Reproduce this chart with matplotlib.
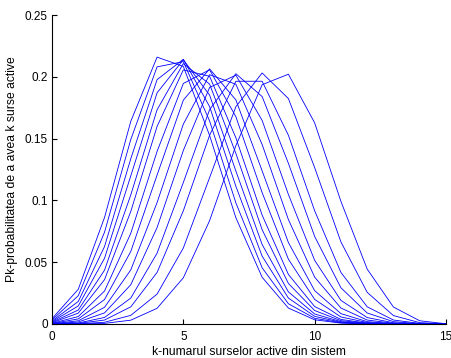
import matplotlib
matplotlib.use("Agg")
import matplotlib.pyplot as plt

k = list(range(16))

L1 = [0.0043, 0.0281, 0.0862, 0.1640, 0.2159, 0.2084, 0.1525, 0.0860, 0.0378, 0.0129, 0.0034, 0.0007, 0.0001, 0.0000, 0.0000, 0.0000]
L2 = [0.0033, 0.0229, 0.0743, 0.1493, 0.2080, 0.2123, 0.1643, 0.0980, 0.0455, 0.0164, 0.0046, 0.0010, 0.0001, 0.0000, 0.0000, 0.0000]
L3 = [0.0025, 0.0182, 0.0627, 0.1338, 0.1977, 0.2142, 0.1759, 0.1114, 0.0549, 0.0210, 0.0062, 0.0014, 0.0002, 0.0000, 0.0000, 0.0000]
L4 = [0.0019, 0.0146, 0.0532, 0.1199, 0.1870, 0.2138, 0.1852, 0.1238, 0.0643, 0.0260, 0.0081, 0.0019, 0.0003, 0.0000, 0.0000, 0.0000]
L5 = [0.0014, 0.0113, 0.0436, 0.1045, 0.1733, 0.2107, 0.1941, 0.1380, 0.0763, 0.0328, 0.0109, 0.0027, 0.0005, 0.0001, 0.0000, 0.0000]
L6 = [0.0010, 0.0088, 0.0359, 0.0911, 0.1598, 0.2056, 0.2004, 0.1507, 0.0881, 0.0401, 0.0141, 0.0037, 0.0007, 0.0001, 0.0000, 0.0000]
L7 = [0.0006, 0.0060, 0.0267, 0.0734, 0.1396, 0.1946, 0.2057, 0.1677, 0.1063, 0.0524, 0.0199, 0.0057, 0.0012, 0.0002, 0.0000, 0.0000]
L8 = [0.0004, 0.0041, 0.0198, 0.0587, 0.1205, 0.1811, 0.2064, 0.1813, 0.1239, 0.0659, 0.0270, 0.0084, 0.0019, 0.0003, 0.0000, 0.0000]
L9 = [0.0002, 0.0026, 0.0135, 0.0438, 0.0982, 0.1617, 0.2017, 0.1940, 0.1452, 0.0845, 0.0379, 0.0129, 0.0032, 0.0006, 0.0001, 0.0000]
L10 = [0.0001, 0.0016, 0.0090, 0.0318, 0.0780, 0.1404, 0.1914, 0.2013, 0.1647, 0.1048, 0.0515, 0.0191, 0.0052, 0.0010, 0.0001, 0.0000]
L11 = [0.0001, 0.0008, 0.0053, 0.0210, 0.0573, 0.1145, 0.1734, 0.2025, 0.1840, 0.1300, 0.0708, 0.0293, 0.0089, 0.0019, 0.0002, 0.0000]
L12 = [0.0000, 0.0005, 0.0032, 0.0139, 0.0417, 0.0916, 0.1527, 0.1964, 0.1964, 0.1527, 0.0916, 0.0417, 0.0139, 0.0032, 0.0005, 0.0000]
L13 = [0.0000, 0.0002, 0.0014, 0.0070, 0.0242, 0.0615, 0.1184, 0.1758, 0.2031, 0.1824, 0.1265, 0.0664, 0.0256, 0.0068, 0.0011, 0.0001]
L14 = [0.0000, 0.0001, 0.0005, 0.0031, 0.0127, 0.0374, 0.0836, 0.1443, 0.1936, 0.2021, 0.1627, 0.0992, 0.0444, 0.0137, 0.0026, 0.0002]

series = [L1, L2, L3, L4, L5, L6, L7, L8, L9, L10, L11, L12, L13, L14]

xticks = [0, 5, 10, 15]
yticks = [0, 0.05, 0.1, 0.15, 0.2, 0.25]
ytick_labels = ["0", "0.05", "0.1", "0.15", "0.2", "0.25"]
xlabel = "k-numarul surselor active din sistem"
ylabel = "Pk-probabilitatea de a avea k surse active"

plt.rcParams['font.family'] = ['Liberation Sans', 'DejaVu Sans']

fig = plt.figure(figsize=(4.51, 3.58), dpi=100)
ax = fig.add_axes([52/451, 34/358, 394/451, 309/358])

for s in series:
    ax.plot(k, s, color=(0, 0, 1), lw=0.6)

ax.set_xlim(0, 15)
ax.set_ylim(0, 0.25)
ax.set_xticks(xticks)
ax.set_yticks(yticks)
ax.set_yticklabels(ytick_labels)
ax.tick_params(direction='in', length=3.5, width=0.8, labelsize=8.5, colors='black')
ax.tick_params(axis='x', pad=5)
ax.tick_params(axis='y', pad=3)
for sp in ['top', 'right']:
    ax.spines[sp].set_visible(False)
for sp in ['left', 'bottom']:
    ax.spines[sp].set_linewidth(0.8)
ax.set_xlabel(xlabel, fontsize=8.7, labelpad=2)
ax.set_ylabel(ylabel, fontsize=8.7, labelpad=5)

fig.savefig("out.png", dpi=100)
